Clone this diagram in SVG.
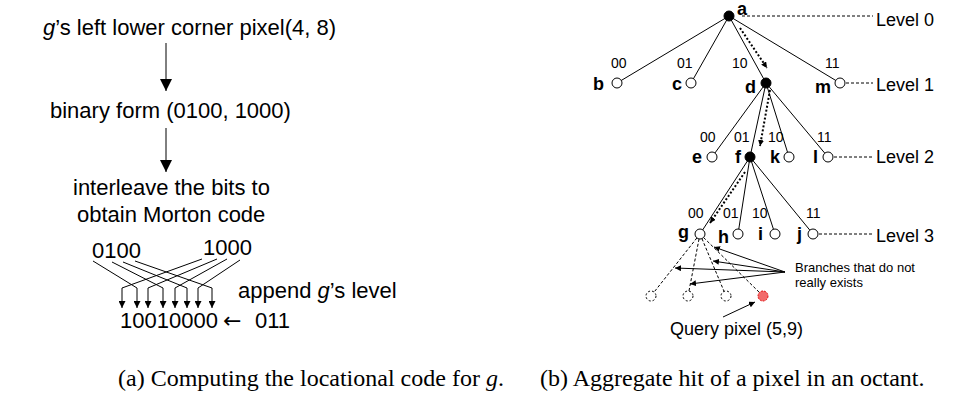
<svg xmlns="http://www.w3.org/2000/svg" width="977" height="403" viewBox="0 0 977 403">
<defs>
<style>
.t{font-family:"Liberation Sans",Arial,sans-serif;fill:#000}
.L{font-size:22px}
.lv{font-size:18px}
.nl{font-size:18px;font-weight:bold}
.el{font-size:14px}
.cap{font-family:"Liberation Serif","Times New Roman",serif;font-size:24px;fill:#000}
.ln{stroke:#000;stroke-width:1;fill:none}
.dash{stroke:#000;stroke-width:1;fill:none;stroke-dasharray:3 2}
.dot{stroke:#000;stroke-width:2;fill:none;stroke-dasharray:2 2}
.open{fill:#fff;stroke:#000;stroke-width:1}
.fill{fill:#000;stroke:#000;stroke-width:1}
.ghost{fill:#fff;stroke:#000;stroke-width:1;stroke-dasharray:2 2}
</style>
<marker id="big" viewBox="0 0 12 12" refX="12" refY="6" markerWidth="12" markerHeight="12" markerUnits="userSpaceOnUse" orient="auto"><path d="M0,0 L12,6 L0,12 z" fill="#000"/></marker>
<marker id="med" viewBox="0 0 8 8" refX="8" refY="4" markerWidth="7" markerHeight="7" markerUnits="userSpaceOnUse" orient="auto"><path d="M0,0 L8,4 L0,8 z" fill="#000"/></marker>
<marker id="sm" viewBox="0 0 8 8" refX="8" refY="4" markerWidth="6" markerHeight="6" markerUnits="userSpaceOnUse" orient="auto"><path d="M0,0 L8,4 L0,8 z" fill="#000"/></marker>
</defs>

<!-- Panel (a) -->
<g id="a-step1"><text class="t L" x="43" y="35"><tspan font-style="italic">g</tspan>’s left lower corner pixel(4, 8)</text></g>
<g id="a-step2"><text class="t L" x="50" y="118">binary form (0100, 1000)</text></g>
<g id="a-step3"><text class="t L" x="73" y="195">interleave the bits to</text><text class="t L" x="77" y="222">obtain Morton code</text></g>
<g id="a-bits"><text class="t L" x="92" y="258">0100</text><text class="t L" x="203" y="255">1000</text></g>
<g id="a-append"><text class="t L" x="238" y="298">append <tspan font-style="italic">g</tspan>’s level</text></g>
<g id="a-code"><text class="t L" x="120" y="328">10010000</text><text font-family="'DejaVu Sans',sans-serif" font-size="22" x="223" y="328">←</text><text class="t L" x="255" y="328">011</text></g>

<g id="a-connectors">
<line class="ln" x1="166" y1="43" x2="166" y2="91" marker-end="url(#big)"/>
<line class="ln" x1="166" y1="128" x2="166" y2="172" marker-end="url(#big)"/>
<polyline class="ln" points="202,259 122,288 122,308" marker-end="url(#med)"/>
<polyline class="ln" points="93,261 137,288 137,308" marker-end="url(#med)"/>
<polyline class="ln" points="217,259 148,288 148,308" marker-end="url(#med)"/>
<polyline class="ln" points="112,262 163,288 163,308" marker-end="url(#med)"/>
<polyline class="ln" points="227,259 175,288 175,308" marker-end="url(#med)"/>
<polyline class="ln" points="123,262 187,288 187,308" marker-end="url(#med)"/>
<polyline class="ln" points="240,260 198,288 198,308" marker-end="url(#med)"/>
<polyline class="ln" points="135,261 212,288 212,308" marker-end="url(#med)"/>
</g>

<!-- Panel (b) connectors -->
<g id="b-connectors">
<line class="ln" x1="729" y1="16" x2="617" y2="83"/>
<line class="ln" x1="729" y1="16" x2="691" y2="83"/>
<line class="ln" x1="729" y1="16" x2="766" y2="83"/>
<line class="ln" x1="729" y1="16" x2="840" y2="83"/>
<line class="ln" x1="766" y1="83" x2="712" y2="157"/>
<line class="ln" x1="766" y1="83" x2="750" y2="157"/>
<line class="ln" x1="766" y1="83" x2="789" y2="157"/>
<line class="ln" x1="766" y1="83" x2="828" y2="157"/>
<line class="ln" x1="750" y1="157" x2="700" y2="234"/>
<line class="ln" x1="750" y1="157" x2="738" y2="234"/>
<line class="ln" x1="750" y1="157" x2="775" y2="234"/>
<line class="ln" x1="750" y1="157" x2="813" y2="234"/>
<line class="dash" x1="700" y1="234" x2="651" y2="296"/>
<line class="dash" x1="700" y1="234" x2="688" y2="296"/>
<line class="dash" x1="700" y1="234" x2="726" y2="296"/>
<line class="dash" x1="700" y1="234" x2="763" y2="296"/>
<line class="dash" x1="742" y1="16" x2="873" y2="16"/>
<line class="dash" x1="846" y1="83" x2="873" y2="83"/>
<line class="dash" x1="834" y1="157" x2="873" y2="157"/>
<line class="dash" x1="819" y1="234" x2="873" y2="234"/>
<line class="dot" x1="740" y1="28" x2="767" y2="68" marker-end="url(#sm)"/>
<line class="dot" x1="770" y1="90" x2="760" y2="146" marker-end="url(#sm)"/>
<line class="dot" x1="745" y1="172" x2="710" y2="223" marker-end="url(#sm)"/>
<line class="ln" x1="785" y1="272" x2="714" y2="247" marker-end="url(#sm)"/>
<line class="ln" x1="785" y1="272" x2="713" y2="261" marker-end="url(#sm)"/>
<line class="ln" x1="785" y1="272" x2="675" y2="268" marker-end="url(#sm)"/>
<line class="ln" x1="785" y1="272" x2="690" y2="284" marker-end="url(#sm)"/>
<line class="ln" x1="723" y1="317" x2="755" y2="302" marker-end="url(#sm)"/>
</g>

<!-- Panel (b) nodes -->
<g id="node-a"><circle class="fill" cx="729" cy="16" r="5"/><text class="t nl" x="737" y="15">a</text></g>
<g id="node-b"><circle class="open" cx="617" cy="83" r="5"/><text class="t nl" x="593" y="90">b</text></g>
<g id="node-c"><circle class="open" cx="691" cy="83" r="5"/><text class="t nl" x="672" y="90">c</text></g>
<g id="node-d"><circle class="fill" cx="766" cy="83" r="5"/><text class="t nl" x="745" y="93">d</text></g>
<g id="node-m"><circle class="open" cx="840" cy="83" r="5"/><text class="t nl" x="815" y="93">m</text></g>
<g id="node-e"><circle class="open" cx="712" cy="157" r="5"/><text class="t nl" x="692" y="163">e</text></g>
<g id="node-f"><circle class="fill" cx="750" cy="157" r="5"/><text class="t nl" x="735" y="163">f</text></g>
<g id="node-k"><circle class="open" cx="789" cy="157" r="5"/><text class="t nl" x="770" y="163">k</text></g>
<g id="node-l"><circle class="open" cx="828" cy="157" r="5"/><text class="t nl" x="813" y="163">l</text></g>
<g id="node-g"><circle class="open" cx="700" cy="234" r="5"/><text class="t nl" x="678" y="238">g</text></g>
<g id="node-h"><circle class="open" cx="738" cy="234" r="5"/><text class="t nl" x="718" y="243">h</text></g>
<g id="node-i"><circle class="open" cx="775" cy="234" r="5"/><text class="t nl" x="758" y="240">i</text></g>
<g id="node-j"><circle class="open" cx="813" cy="234" r="5"/><text class="t nl" x="797" y="240">j</text></g>
<g id="ghost-1"><circle class="ghost" cx="651" cy="296" r="5"/></g>
<g id="ghost-2"><circle class="ghost" cx="688" cy="296" r="5"/></g>
<g id="ghost-3"><circle class="ghost" cx="726" cy="296" r="5"/></g>
<g id="query-node"><circle cx="763" cy="296" r="5" fill="#f26a6a" stroke="#e01010" stroke-width="1" stroke-dasharray="2 1"/></g>

<g id="edge-labels">
<text class="t el" x="611" y="68">00</text><text class="t el" x="677" y="68">01</text><text class="t el" x="732" y="68">10</text><text class="t el" x="825" y="68">11</text>
<text class="t el" x="700" y="142">00</text><text class="t el" x="734" y="142">01</text><text class="t el" x="768" y="142">10</text><text class="t el" x="817" y="142">11</text>
<text class="t el" x="688" y="218">00</text><text class="t el" x="723" y="218">01</text><text class="t el" x="752" y="218">10</text><text class="t el" x="806" y="218">11</text>
</g>
<g id="levels">
<text class="t lv" x="876" y="26">Level 0</text>
<text class="t lv" x="876" y="91">Level 1</text>
<text class="t lv" x="876" y="163">Level 2</text>
<text class="t lv" x="876" y="242">Level 3</text>
</g>
<g id="note-branches"><text class="t" font-size="13" x="795" y="272">Branches that do not</text><text class="t" font-size="13" x="795" y="287">really exists</text></g>
<g id="note-query"><text class="t lv" x="670" y="335">Query pixel (5,9)</text></g>

<g id="captions">
<text class="cap" x="118" y="386">(a) Computing the locational code for <tspan font-style="italic">g</tspan>.</text>
<text class="cap" x="540" y="386">(b) Aggregate hit of a pixel in an octant.</text>
</g>
</svg>
